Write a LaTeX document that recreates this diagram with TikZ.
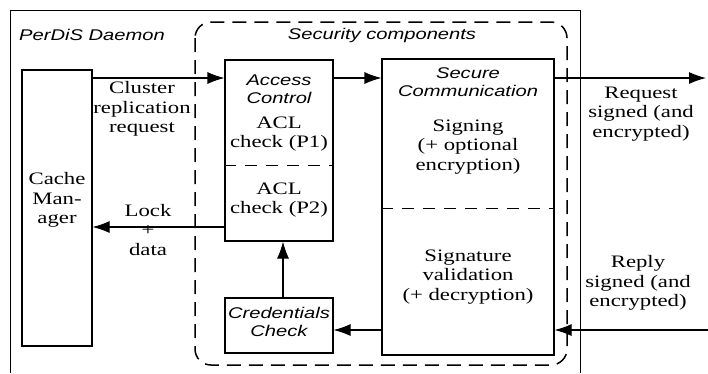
\documentclass[tikz,border=0pt]{standalone}
\usepackage{fontspec}
\setmainfont{Liberation Serif}[FakeStretch=1.3]
\newfontfamily\hdfont{Liberation Sans}[FakeStretch=1.3]
\usetikzlibrary{arrows.meta}
\begin{document}
\begin{tikzpicture}[x=1pt,y=-1pt,
  box/.style={draw,line width=1.1pt,inner sep=0pt},
  arr/.style={line width=1.1pt,-{Latex[length=17pt,width=12pt]}},
  txt/.style={align=center,inner sep=0pt,font=\fontsize{17.5}{19.5}\selectfont},
  hd/.style={align=center,inner sep=0pt,font=\hdfont\itshape\fontsize{15.5}{18}\selectfont},
  divl/.style={line width=1pt,dash pattern=on 12pt off 9pt}]
\useasboundingbox (0,0) rectangle (708,373);
\fill[white] (0,0) rectangle (708,373);
% outer daemon frame
\draw[line width=1pt] (10,373) -- (10,10) -- (580,10) -- (580,373);
% security components dashed frame
\draw[line width=1.5pt,dash pattern=on 14pt off 8pt,rounded corners=16pt] (195,22) rectangle (567,365);
\node[hd,anchor=west] (pd) at (19,35) {PerDiS Daemon};
\node[hd] (scl) at (382,35) {Security components};
% boxes
\node[box,minimum width=70pt,minimum height=276pt] (cm) at (57,208) {};
\node[box,minimum width=108pt,minimum height=181pt] (ac) at (279,150.5) {};
\node[box,minimum width=172pt,minimum height=296pt] (sc) at (468,207) {};
\node[box,minimum width=108pt,minimum height=55pt] (cc) at (279,325.5) {};
% dividers
\draw[divl] (ac.west |- 0,165) -- (ac.east |- 0,165);
\draw[divl] (sc.west |- 0,208) -- (sc.east |- 0,208);
% texts
\node[txt] (cmt) at (57,200) {Cache\\Man-\\ager};
\node[hd] (act) at (279,89) {Access\\Control};
\node[txt] (p1) at (279,134) {ACL\\check (P1)};
\node[txt] (p2) at (279,200) {ACL\\check (P2)};
\node[hd] (sct) at (468,82) {Secure\\Communication};
\node[txt] (sgn) at (468,147) {Signing\\(+ optional\\encryption)};
\node[txt] (sv) at (468,277) {Signature\\validation\\(+ decryption)};
\node[hd] (cct) at (279,322) {Credentials\\Check};
\node[txt] (clu) at (142,109) {Cluster\\replication\\request};
\node[txt] (lock) at (148,230) {Lock\\+\\data};
\node[txt] (req) at (641,114) {Request\\signed (and\\encrypted)};
\node[txt] (rep) at (638,283) {Reply\\signed (and\\encrypted)};
% connectors
\coordinate (ya) at (0,78);
\coordinate (yb) at (0,330);
\coordinate (yl) at (0,227);
\coordinate (reqend) at (706,78);
\coordinate (repstart) at (708,330);
\draw[arr] (ya -| cm.east) -- (ya -| ac.west);
\draw[arr] (ya -| ac.east) -- (ya -| sc.west);
\draw[arr] (ya -| sc.east) -- (reqend);
\draw[arr] (repstart) -- (yb -| sc.east);
\draw[arr] (yb -| sc.west) -- (yb -| cc.east);
\draw[arr] ([xshift=4pt]cc.north) -- ([xshift=4pt]ac.south);
\draw[arr] (yl -| ac.west) -- (yl -| cm.east);
\end{tikzpicture}
\end{document}
